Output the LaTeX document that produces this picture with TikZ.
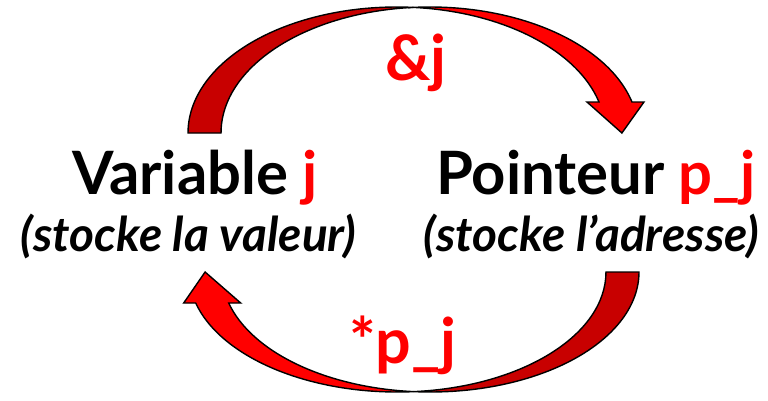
\documentclass[tikz,border=0pt]{standalone}
\usepackage{fontspec}
\setmainfont{Lato}
\usetikzlibrary{calc}
\definecolor{arrowdark}{HTML}{C80000}
\definecolor{arrowbright}{HTML}{FF0000}
\definecolor{labelred}{HTML}{FF0000}
% curved block arrow, local origin = centre of first ellipse
% #1 = height of the arc
\newcommand{\mycurvedarrow}[1]{%
  \pgfmathsetmacro{\wR}{208.7}%
  \pgfmathsetmacro{\th}{33}%
  \pgfmathsetmacro{\ah}{31}%
  \pgfmathsetmacro{\dh}{12}%
  \pgfmathsetmacro{\phi}{asin(\ah/#1)}%
  \pgfmathsetmacro{\dx}{\wR*cos(\phi)}%
  \pgfmathsetmacro{\tip}{225.2}%
  % back (dark) part
  \filldraw[arrowpart, fill=arrowdark]
    (-\wR,0) arc[start angle=180, end angle=85.46, x radius=\wR, y radius=#1]
    arc[start angle=94.54, end angle=180, x radius=\wR, y radius=#1]
    -- cycle;
  % front (bright) part with head
  \filldraw[arrowpart, fill=arrowbright]
    ({\th/2},{#1*sin(85.46)})
    arc[start angle=94.54, end angle=\phi, x radius=\wR, y radius=#1]
    -- ({\th+\dx+\dh},\ah) -- (\tip,0) -- ({\dx-\dh},\ah) -- (\dx,\ah)
    arc[start angle=\phi, end angle=85.46, x radius=\wR, y radius=#1]
    -- cycle;
}
\begin{document}
\begin{tikzpicture}[x=1bp,y=1bp,
  arrowpart/.style={draw=black, line width=1.4bp, line join=miter},
  titletext/.style={font=\fontsize{60}{66}\selectfont\bfseries, inner sep=0pt, anchor=base},
  notetext/.style={font=\fontsize{48}{54}\selectfont\bfseries\itshape, inner sep=0pt, anchor=base},
  optext/.style={font=\fontsize{63}{70}\selectfont\bfseries, text=labelred, inner sep=0pt, anchor=base}]
\useasboundingbox (0,0) rectangle (768,400);
\fill[white] (0,0) rectangle (768,400);
% top arrow (&j)
\begin{scope}[shift={(396.7,267)}]
  \mycurvedarrow{126}
\end{scope}
% bottom arrow (*p_j)
\begin{scope}[shift={(430.3,128)}, rotate=180]
  \mycurvedarrow{120}
\end{scope}
\node[titletext] (varname) at (195,206) {Variable \textcolor{labelred}{j}};
\node[notetext] (varnote) at (188.5,149) {(stocke la valeur)};
\node[titletext] (ptrname) at (596,206) {Pointeur \textcolor{labelred}{p\_j}};
\node[notetext] (ptrnote) at (591.5,149) {(stocke l’adresse)};
\node[optext] (addr) at (416,320) {\&j};
\node[optext] (deref) at (403,37) {*p\_j};
\end{tikzpicture}
\end{document}
